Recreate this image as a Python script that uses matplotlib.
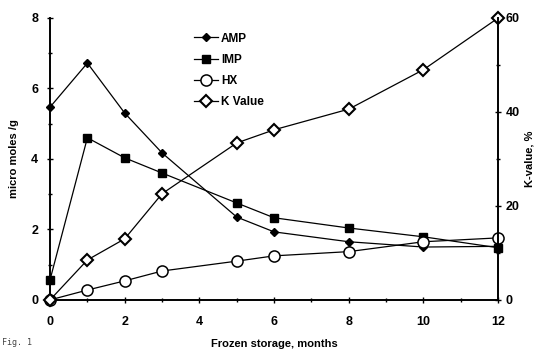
import matplotlib
matplotlib.use("Agg")
import matplotlib.pyplot as plt
from matplotlib.ticker import MultipleLocator

months = [0, 1, 2, 3, 5, 6, 8, 10, 12]
amp = [5.47, 6.72, 5.30, 4.17, 2.35, 1.93, 1.65, 1.50, 1.52]
imp = [0.57, 4.60, 4.03, 3.60, 2.75, 2.33, 2.04, 1.79, 1.48]
hx = [0.00, 0.28, 0.54, 0.82, 1.10, 1.25, 1.37, 1.65, 1.76]
kval = [0.0, 8.5, 13.0, 22.6, 33.4, 36.2, 40.6, 49.0, 60.0]

plt.rcParams['font.family'] = ['Liberation Sans', 'DejaVu Sans']
plt.rcParams['font.weight'] = 'bold'

fig = plt.figure(figsize=(5.38, 3.52), dpi=100)
ax = fig.add_axes([0.093, 0.148, 0.833, 0.801])
ax2 = ax.twinx()

lw = 0.9
l1, = ax.plot(months, amp, '-', color='black', lw=lw, marker='D', ms=4.5,
              mfc='black', mec='black', label='AMP', clip_on=False, zorder=3)
l2, = ax.plot(months, imp, '-', color='black', lw=lw, marker='s', ms=6,
              mfc='black', mec='black', label='IMP', clip_on=False, zorder=3)
l3, = ax.plot(months, hx, '-', color='black', lw=lw, marker='o', ms=8,
              mfc='white', mec='black', mew=1.1, label='HX', clip_on=False, zorder=4)
l4, = ax2.plot(months, kval, '-', color='black', lw=lw, marker='D', ms=6,
               mfc='white', mec='black', mew=1.5, label='K Value', clip_on=False)

ax.set_xlim(0, 12)
ax.set_ylim(0, 8)
ax2.set_ylim(0, 60)

for a in (ax, ax2):
    a.spines['top'].set_visible(False)
    for s in a.spines.values():
        s.set_linewidth(1.4)
ax.spines['right'].set_visible(False)
ax2.spines['left'].set_visible(False)
ax2.spines['bottom'].set_visible(False)

ax.xaxis.set_major_locator(MultipleLocator(2))
ax.xaxis.set_minor_locator(MultipleLocator(1))
ax.yaxis.set_major_locator(MultipleLocator(2))
ax.yaxis.set_minor_locator(MultipleLocator(1))
ax2.yaxis.set_major_locator(MultipleLocator(20))
ax2.yaxis.set_minor_locator(MultipleLocator(10))

ax.tick_params(axis='y', which='major', direction='inout', length=5, width=1,
               labelsize=9, pad=6)
ax.tick_params(axis='x', which='major', direction='inout', length=5, width=1,
               labelsize=9, pad=9)
ax.tick_params(axis='both', which='minor', direction='inout', length=3, width=1)
ax2.tick_params(axis='y', which='major', direction='inout', length=5, width=1,
                labelsize=9, pad=3)
ax2.tick_params(axis='y', which='minor', direction='inout', length=3, width=1)

for lab in ax.get_xticklabels() + ax.get_yticklabels() + ax2.get_yticklabels():
    lab.set_fontweight('bold')

ax.set_xlabel('Frozen storage, months', fontsize=8, fontweight='bold', labelpad=8)
ax.set_ylabel('micro moles /g', fontsize=8, fontweight='bold', labelpad=9)
ax2.set_ylabel('K-value, %', fontsize=8, fontweight='bold', labelpad=3)

leg = ax.legend(handles=[l1, l2, l3, l4], loc='upper left',
                bbox_to_anchor=(0.31, 0.965), frameon=False, fontsize=8.5,
                handlelength=2.1, handletextpad=0.2, labelspacing=0.78,
                borderaxespad=0)

fig.text(0.004, 0.02, 'Fig. 1', fontsize=6, family='DejaVu Sans Mono',
         fontweight='normal', color='#444444')

fig.savefig('out.png', dpi=100)
